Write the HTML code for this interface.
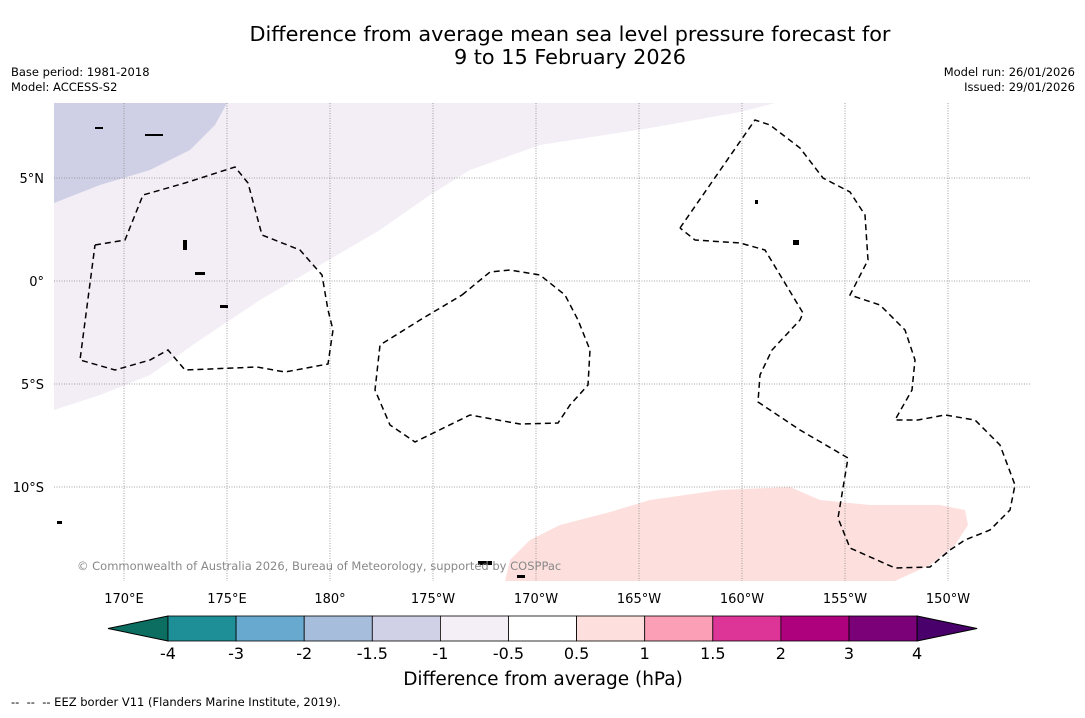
<!DOCTYPE html>
<html><head><meta charset="utf-8">
<style>
body{margin:0;background:#fff;font-family:"Liberation Sans","DejaVu Sans",sans-serif;}
svg text{font-family:"DejaVu Sans","Liberation Sans",sans-serif;}
</style></head>
<body>
<svg width="1085" height="713" viewBox="0 0 1085 713">
<text x="570" y="41" font-size="20.8" text-anchor="middle">Difference from average mean sea level pressure forecast for</text>
<text x="570" y="64" font-size="20.8" text-anchor="middle">9 to 15 February 2026</text>
<text x="11" y="76" font-size="11.5">Base period: 1981-2018</text>
<text x="11" y="91" font-size="11.5">Model: ACCESS-S2</text>
<text x="1075" y="76" font-size="11.5" text-anchor="end">Model run: 26/01/2026</text>
<text x="1075" y="91" font-size="11.5" text-anchor="end">Issued: 29/01/2026</text>
<g id="map">
<defs><clipPath id="mc"><rect x="54" y="103" width="977" height="478"/></clipPath></defs>
<g clip-path="url(#mc)">
<polygon fill="#f3eef6" points="54,103 775,103 740,112 650,128 540,145 470,170 430,195 380,230 320,265 260,300 200,340 150,375 100,395 54,410"/>
<polygon fill="#cfd0e5" points="54,103 227,103 215,125 190,150 150,170 100,185 54,203"/>
<polygon fill="#fde0de" points="505,581 510,560 530,540 560,525 610,512 650,500 720,490 790,487 820,500 870,505 940,505 965,510 968,525 955,545 930,565 895,581"/>
<g id="grid" stroke="#888" stroke-width="0.8" stroke-dasharray="1,1.5"></g>
<g fill="none" stroke="#000" stroke-width="1.5" stroke-dasharray="6,4">
<polyline points="95,245 125,240 143,195 185,183 235,167 248,183 262,235 300,250 322,275 328,310 333,330 328,364 285,372 257,367 185,370 168,350 150,360 115,370 80,360 95,245"/>
<polyline points="462,295 490,272 510,270 540,275 565,295 578,320 590,350 588,385 570,405 558,423 520,424 470,415 415,442 390,425 375,390 380,345 420,320 462,295"/>
<polyline points="680,228 755,120 770,125 800,148 823,178 850,192 865,215 868,260 850,295 880,305 905,330 915,360 912,390 895,420 918,420 945,415 975,420 1000,445 1015,485 1010,510 990,530 965,540 950,550 930,567 895,568 850,548 838,518 848,458 800,430 758,402 760,375 772,350 800,320 803,313 765,250 740,243 695,240 680,228"/>
</g>
<g fill="#000">
<rect x="145" y="134" width="18" height="2"/><rect x="95" y="127" width="8" height="2"/><rect x="183" y="240" width="4" height="10"/><rect x="195" y="272" width="10" height="3"/><rect x="220" y="305" width="8" height="3"/><rect x="755" y="200" width="3" height="4"/><rect x="793" y="240" width="6" height="5"/><rect x="478" y="561" width="14" height="4"/><rect x="517" y="575" width="8" height="3"/><rect x="57" y="521" width="5" height="3"/>
</g>
</g>
<text x="77" y="570" font-size="11.5" fill="#888">© Commonwealth of Australia 2026, Bureau of Meteorology, supported by COSPPac</text>
<g id="ticks" font-size="13"></g>
</g>
<g id="cbar"></g>
<text x="543" y="685" font-size="18.5" text-anchor="middle">Difference from average (hPa)</text>
<text x="11" y="706" font-size="11.5" xml:space="preserve" style="white-space:pre">--  --  -- EEZ border V11 (Flanders Marine Institute, 2019).</text>
</svg>
<script>
const lonTicks=[170,175,180,185,190,195,200,205,210];
const lonLabels=["170°E","175°E","180°","175°W","170°W","165°W","160°W","155°W","150°W"];
const latTicks=[5,0,-5,-10];
const latLabels=["5°N","0°","5°S","10°S"];
const cbLevels=["-4","-3","-2","-1.5","-1","-0.5","0.5","1","1.5","2","3","4"];
const cbColors=["#1e8f96","#67a9cf","#a6bddb","#d0d1e6","#f4eef6","#ffffff","#fde0dd","#fa9fb5","#dd3497","#ae017e","#7a0177"];
const underColor="#0b6e60", overColor="#49006a";
const NS="http://www.w3.org/2000/svg";
const xLon=l=>124+(l-170)*20.6;
const yLat=l=>281-l*20.6;
const grid=document.getElementById('grid'), ticks=document.getElementById('ticks');
function mk(t,a){const e=document.createElementNS(NS,t);for(const k in a)e.setAttribute(k,a[k]);return e;}
lonTicks.forEach((l,i)=>{
 const ln=mk('line',{x1:xLon(l),x2:xLon(l),y1:103,y2:581});
 
 
 grid.appendChild(ln);
 const t=mk('text',{x:xLon(l),y:603,'text-anchor':'middle'});t.textContent=lonLabels[i];
 
 
 ticks.appendChild(t);
});
latTicks.forEach((l,i)=>{
 const ln=mk('line',{x1:54,x2:1031,y1:yLat(l),y2:yLat(l)});
 
 
 grid.appendChild(ln);
 const t=mk('text',{x:44,y:yLat(l)+5,'text-anchor':'end'});t.textContent=latLabels[i];
 
 
 ticks.appendChild(t);
});
const cb=document.getElementById('cbar');
const cx0=168,cw=68.1,cy=616,ch=25;
const u=mk('polygon',{points:`108,${cy+ch/2} ${cx0},${cy} ${cx0},${cy+ch}`,fill:underColor,stroke:'#000','stroke-width':1});


cb.appendChild(u);
cbColors.forEach((c,i)=>{
 const r=mk('rect',{x:cx0+i*cw,y:cy,width:cw,height:ch,fill:c,stroke:'#000','stroke-width':0.8});
 
 
 cb.appendChild(r);
});
const xe=cx0+cbColors.length*cw;
const o=mk('polygon',{points:`${xe},${cy} ${xe+60},${cy+ch/2} ${xe},${cy+ch}`,fill:overColor,stroke:'#000','stroke-width':1});


cb.appendChild(o);
cbLevels.forEach((v,i)=>{
 const t=mk('text',{x:cx0+i*cw,y:cy+ch+18,'font-size':16,'text-anchor':'middle'});t.textContent=v;
 
 
 cb.appendChild(t);
});
</script>
</body></html>
